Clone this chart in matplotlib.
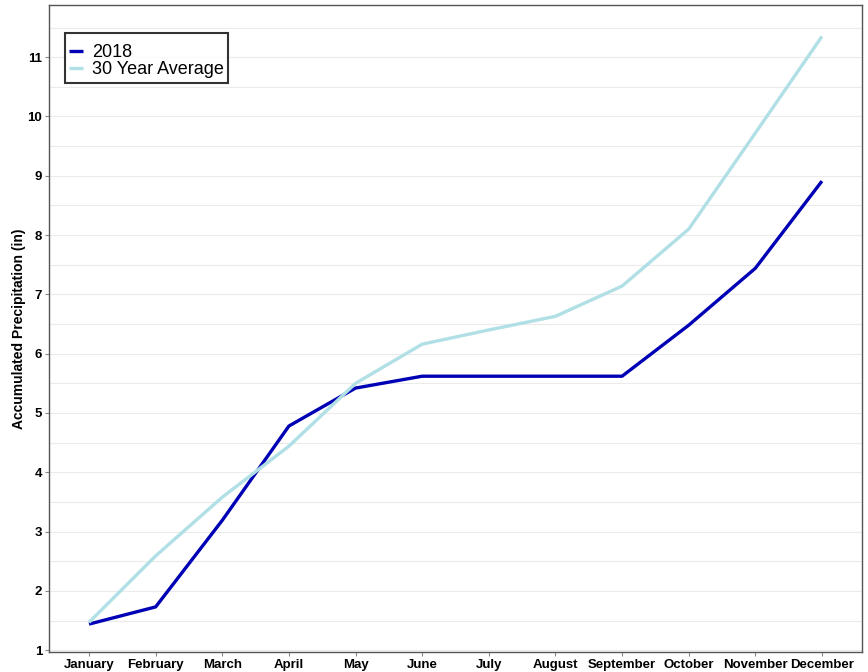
import numpy as np
import matplotlib
matplotlib.use("Agg")
import matplotlib.pyplot as plt

months = ["January", "February", "March", "April", "May", "June", "July",
          "August", "September", "October", "November", "December"]
precip_2018 = [1.44, 1.73, 3.19, 4.78, 5.42, 5.62, 5.62, 5.62, 5.62, 6.48, 7.44, 8.91]
precip_avg = [1.47, 2.59, 3.58, 4.44, 5.50, 6.16, 6.40, 6.63, 7.14, 8.10, 9.72, 11.35]

plt.rcParams["font.family"] = ["Liberation Sans", "DejaVu Sans"]

fig = plt.figure(figsize=(8.68, 6.72), dpi=100)
ax = fig.add_axes([0.0565, 0.0298, 0.9365, 0.9628])

x = np.arange(len(months))
ax.plot(x, precip_2018, color="#0000B4", lw=2.4, label="2018", solid_capstyle="butt")
ax.plot(x, precip_avg, color="#B0E0E6", lw=2.4, label="30 Year Average", solid_capstyle="butt")

ax.set_xlim(-0.6, 11.6)
ax.set_ylim(0.97, 11.88)
ax.set_xticks(x)
ax.set_xticklabels(months, fontsize=9.5, fontweight="bold")
ax.set_yticks(range(1, 12))
ax.set_yticklabels([str(v) for v in range(1, 12)], fontsize=9.5, fontweight="bold")
ax.set_yticks(np.arange(1.5, 12, 1), minor=True)
ax.tick_params(axis="y", which="minor", length=0)
ax.tick_params(axis="both", which="major", length=3, color="#888888", pad=2)
ax.grid(True, axis="y", which="both", color="#EBEBEB", lw=0.8)
ax.set_axisbelow(True)
for s in ax.spines.values():
    s.set_color("#555555")
    s.set_linewidth(1)

ax.set_ylabel("Accumulated Precipitation (in)", fontsize=10, fontweight="bold", labelpad=1)

leg = ax.legend(loc="upper left", bbox_to_anchor=(0.0195, 0.957), fontsize=13,
                title=" ", title_fontsize=5,
                frameon=True, fancybox=False, handlelength=0.75, handletextpad=0.5,
                borderpad=0.25, labelspacing=0.0, borderaxespad=0)
leg.get_frame().set_edgecolor("black")
leg.get_frame().set_linewidth(1.5)

fig.savefig("out.png", dpi=100)
